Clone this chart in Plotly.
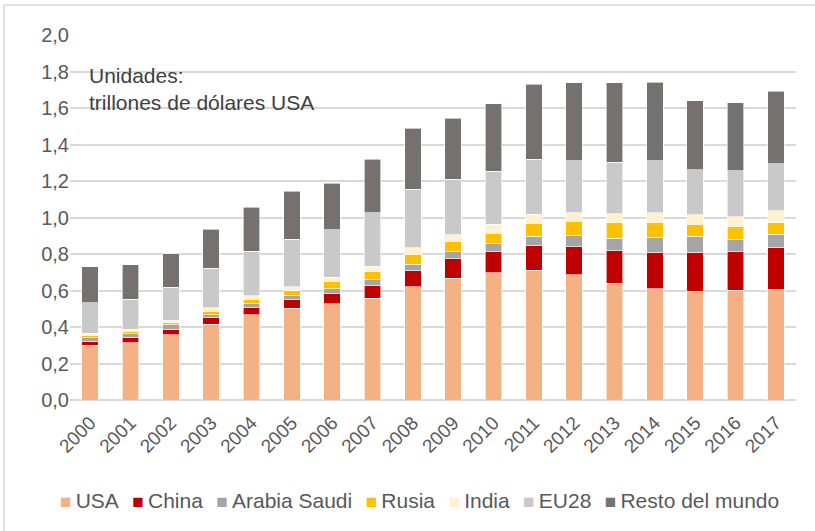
import plotly.graph_objects as go

# Datos (trillones de dólares USA)
YEARS = [str(y) for y in range(2000, 2018)]

USA = [0.300, 0.314, 0.358, 0.416, 0.466, 0.504, 0.528, 0.557, 0.621, 0.667,
       0.698, 0.712, 0.685, 0.641, 0.610, 0.597, 0.601, 0.608]
CHINA = [0.022, 0.026, 0.031, 0.035, 0.040, 0.044, 0.055, 0.069, 0.086, 0.106,
         0.113, 0.135, 0.155, 0.177, 0.199, 0.212, 0.212, 0.229]
ARABIA_SAUDI = [0.020, 0.022, 0.022, 0.017, 0.022, 0.026, 0.027, 0.033, 0.038, 0.040,
                0.046, 0.050, 0.059, 0.068, 0.080, 0.088, 0.065, 0.071]
RUSIA = [0.012, 0.014, 0.013, 0.018, 0.022, 0.025, 0.037, 0.044, 0.055, 0.053,
         0.058, 0.069, 0.080, 0.088, 0.086, 0.067, 0.070, 0.062]
INDIA = [0.012, 0.011, 0.013, 0.020, 0.020, 0.022, 0.025, 0.031, 0.035, 0.040,
         0.049, 0.052, 0.047, 0.047, 0.051, 0.051, 0.057, 0.066]
EU28 = [0.167, 0.166, 0.180, 0.215, 0.246, 0.259, 0.261, 0.292, 0.321, 0.303,
        0.289, 0.301, 0.284, 0.283, 0.284, 0.247, 0.250, 0.259]
RESTO = [0.196, 0.188, 0.185, 0.214, 0.240, 0.263, 0.254, 0.293, 0.333, 0.334,
         0.371, 0.411, 0.429, 0.435, 0.431, 0.378, 0.374, 0.398]

SERIES = [
    ("USA", USA, "#F4B183"),
    ("China", CHINA, "#C00000"),
    ("Arabia Saudi", ARABIA_SAUDI, "#A5A5A5"),
    ("Rusia", RUSIA, "#FFC000"),
    ("India", INDIA, "#FFF2CC"),
    ("EU28", EU28, "#C9C9C9"),
    ("Resto del mundo", RESTO, "#767171"),
]

FAMILY = "Liberation Sans, Arial, sans-serif"
TEXT_COLOR = "#595959"
GRID_COLOR = "#D9D9D9"
BORDER_COLOR = "#D9D9D9"

fig = go.Figure()

for name, vals, color in SERIES:
    fig.add_trace(go.Bar(
        name=name, x=YEARS, y=vals,
        marker=dict(color=color, line=dict(color="white", width=0.6)),
        showlegend=False,
    ))

# leyenda compacta estilo Excel (cuadrado + texto)
legend_html = "&#160;&#160;&#8202;".join(
    f'<span style="color:{c};font-size:19px">&#9632;</span>&#8201;{n}' for n, _, c in SERIES
)

fig.update_layout(
    barmode="stack",
    bargap=0.59,
    width=815, height=531,
    margin=dict(l=70, r=19, t=35, b=131),
    plot_bgcolor="white", paper_bgcolor="white",
    font=dict(family=FAMILY, size=20, color=TEXT_COLOR),
    separators=",.",
    annotations=[
        dict(text="Unidades:<br>trillones de dólares USA",
             xref="paper", yref="paper", x=0.024, y=0.925, xanchor="left", yanchor="top",
             showarrow=False, align="left",
             font=dict(family=FAMILY, size=21, color="#404040")),
        dict(text=legend_html,
             xref="paper", yref="paper", x=0.482, y=-0.274, xanchor="center", yanchor="middle",
             showarrow=False,
             font=dict(family=FAMILY, size=21, color=TEXT_COLOR)),
    ],
    shapes=[
        dict(type="line", xref="paper", yref="paper", x0=-0.0909, x1=1.2, y0=1.082, y1=1.082,
             line=dict(color=BORDER_COLOR, width=1.5), layer="below"),
        dict(type="line", xref="paper", yref="paper", x0=-0.0909, x1=-0.0909, y0=-0.5, y1=1.082,
             line=dict(color=BORDER_COLOR, width=1.5), layer="below"),
    ],
)

fig.update_xaxes(tickangle=-45, showgrid=False, showline=False, ticks="",
                 ticklabelstandoff=7,
                 tickfont=dict(family=FAMILY, size=19, color=TEXT_COLOR))
fig.update_yaxes(range=[0, 2.0], dtick=0.2, tickformat=".1f", showgrid=True,
                 gridcolor=GRID_COLOR, gridwidth=1.5, zeroline=True,
                 zerolinecolor=GRID_COLOR, zerolinewidth=1.5, showline=False,
                 ticks="", tickfont=dict(family=FAMILY, size=20, color=TEXT_COLOR))

fig.write_html("out.html", config={"displayModeBar": False},
               post_script="document.body.style.margin='0';")
